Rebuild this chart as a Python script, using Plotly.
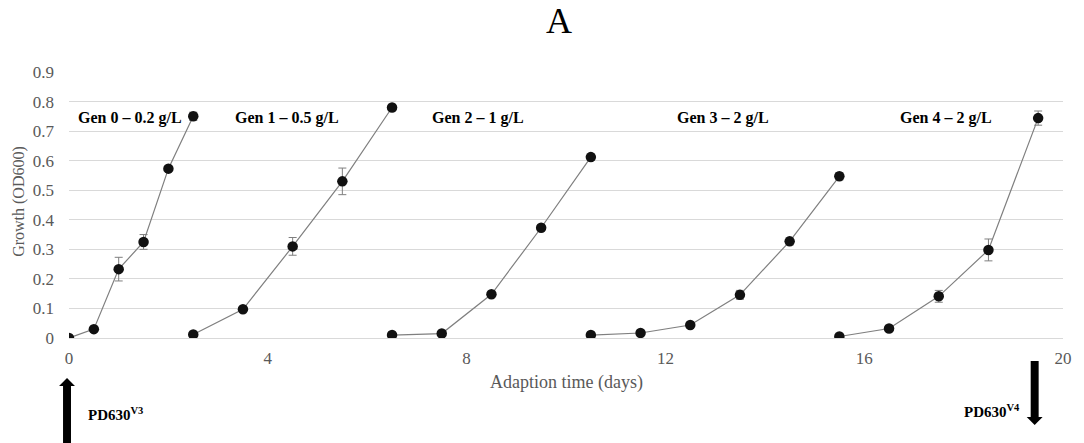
import plotly.graph_objects as go

# Adaptation series: sampling time (days), OD600 mean and standard deviation
gen_names = ["Gen 0 – 0.2 g/L", "Gen 1 – 0.5 g/L", "Gen 2 – 1 g/L", "Gen 3 – 2 g/L", "Gen 4 – 2 g/L"]

gen0_days = [0, 0.5, 1.0, 1.5, 2.0, 2.5]
gen0_od = [0.0, 0.03, 0.233, 0.325, 0.573, 0.75]
gen0_sd = [0.003, 0.004, 0.04, 0.025, 0.006, 0.014]

gen1_days = [2.5, 3.5, 4.5, 5.5, 6.5]
gen1_od = [0.012, 0.097, 0.31, 0.53, 0.78]
gen1_sd = [0.003, 0.004, 0.03, 0.045, 0.008]

gen2_days = [6.5, 7.5, 8.5, 9.5, 10.5]
gen2_od = [0.01, 0.015, 0.148, 0.373, 0.612]
gen2_sd = [0.003, 0.003, 0.006, 0.006, 0.01]

gen3_days = [10.5, 11.5, 12.5, 13.5, 14.5, 15.5]
gen3_od = [0.01, 0.017, 0.044, 0.146, 0.327, 0.547]
gen3_sd = [0.003, 0.003, 0.005, 0.015, 0.012, 0.012]

gen4_days = [15.5, 16.5, 17.5, 18.5, 19.5]
gen4_od = [0.005, 0.032, 0.141, 0.298, 0.744]
gen4_sd = [0.003, 0.004, 0.02, 0.037, 0.024]

label_x = [1.22, 4.38, 8.22, 13.16, 17.65]
label_y = [0.745, 0.745, 0.745, 0.745, 0.745]

x_ticks = [0, 4, 8, 12, 16, 20]
y_ticks = [0, 0.1, 0.2, 0.3, 0.4, 0.5, 0.6, 0.7, 0.8, 0.9]

series = [
    (gen0_days, gen0_od, gen0_sd),
    (gen1_days, gen1_od, gen1_sd),
    (gen2_days, gen2_od, gen2_sd),
    (gen3_days, gen3_od, gen3_sd),
    (gen4_days, gen4_od, gen4_sd),
]

SERIF = "Liberation Serif"
TICK_COLOR = "#595959"

fig = go.Figure()
for name, (xs, ys, sd) in zip(gen_names, series):
    fig.add_trace(go.Scatter(
        x=xs, y=ys, name=name, mode="lines+markers",
        line=dict(color="#7f7f7f", width=1.2),
        marker=dict(color="#111111", size=10.5),
        error_y=dict(type="data", array=sd, visible=True,
                     color="#7f7f7f", thickness=1, width=4),
        showlegend=False,
    ))

annotations = []
for name, lx, ly in zip(gen_names, label_x, label_y):
    annotations.append(dict(
        x=lx, y=ly, xref="x", yref="y", text=f"<b>{name}</b>",
        showarrow=False, xanchor="center", yanchor="middle",
        font=dict(family=SERIF, size=16, color="black"),
    ))

# Panel letter
annotations.append(dict(
    x=0.4927, y=1.19, xref="paper", yref="paper", text="A",
    showarrow=False, xanchor="center", yanchor="middle",
    font=dict(family=SERIF, size=36, color="black"),
))

# Axis titles
annotations.append(dict(
    x=0.5, y=-0.168, xref="paper", yref="paper", text="Adaption time (days)",
    showarrow=False, xanchor="center", yanchor="middle",
    font=dict(family=SERIF, size=18, color=TICK_COLOR),
))
annotations.append(dict(
    x=-0.051, y=0.513, xref="paper", yref="paper", text="Growth (OD600)",
    showarrow=False, xanchor="center", yanchor="middle", textangle=-90,
    font=dict(family=SERIF, size=16, color=TICK_COLOR),
))

# Strain labels beside the arrows
annotations.append(dict(
    x=0.017, y=-0.285, xref="paper", yref="paper",
    text="<b>PD630<sup>V3</sup></b>",
    showarrow=False, xanchor="left", yanchor="middle",
    font=dict(family=SERIF, size=15, color="black"),
))
annotations.append(dict(
    x=0.959, y=-0.276, xref="paper", yref="paper",
    text="<b>PD630<sup>V4</sup></b>",
    showarrow=False, xanchor="right", yanchor="middle",
    font=dict(family=SERIF, size=15, color="black"),
))

# Block arrows drawn as shapes in paper units (1 px = 1/1000 in x, 1/266 in y)
PXX = 1.0 / 1000.0
PXY = 1.0 / 266.0


def arrow_path(xc, y_tail, y_tip, shaft_half, head_half, head_len):
    direction = 1 if y_tip > y_tail else -1
    y_base = y_tip - direction * head_len
    return (f"M {xc - shaft_half},{y_tail} L {xc - shaft_half},{y_base} "
            f"L {xc - head_half},{y_base} L {xc},{y_tip} L {xc + head_half},{y_base} "
            f"L {xc + shaft_half},{y_base} L {xc + shaft_half},{y_tail} Z")


shapes = [
    dict(type="path", xref="paper", yref="paper",
         path=arrow_path(-2 * PXX, -110 * PXY, -40 * PXY, 4 * PXX, 8 * PXX, 8 * PXY),
         fillcolor="black", line=dict(width=0)),
    dict(type="path", xref="paper", yref="paper",
         path=arrow_path(971.5 * PXX, -23 * PXY, -87 * PXY, 4 * PXX, 8 * PXX, 8 * PXY),
         fillcolor="black", line=dict(width=0)),
]

fig.update_layout(
    width=1084, height=443,
    margin=dict(l=69, r=15, t=72, b=105),
    paper_bgcolor="white", plot_bgcolor="white",
    font=dict(family=SERIF, size=17, color=TICK_COLOR),
    annotations=annotations,
    shapes=shapes,
)
fig.update_xaxes(
    range=[0, 20], tickvals=x_ticks, ticktext=[str(v) for v in x_ticks],
    showgrid=False, zeroline=False, showline=True, linecolor="#d9d9d9",
    ticks="", ticklabelstandoff=5,
    tickfont=dict(family=SERIF, size=17, color=TICK_COLOR),
)
fig.update_yaxes(
    range=[0, 0.9], tickvals=y_ticks, ticktext=["0"] + [f"{v:.1f}" for v in y_ticks[1:]],
    showgrid=True, gridcolor="#d9d9d9", gridwidth=1, zeroline=False,
    showline=False, ticks="", ticklabelstandoff=14,
    tickfont=dict(family=SERIF, size=17, color=TICK_COLOR),
)

fig.write_html("out.html")
